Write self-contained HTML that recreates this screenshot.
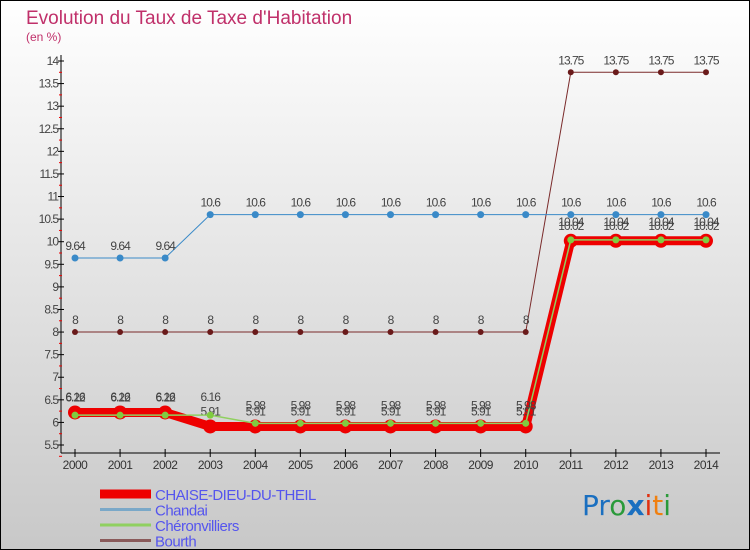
<!DOCTYPE html>
<html><head><meta charset="utf-8"><style>
body{margin:0;}
#wrap{position:relative;width:750px;height:550px;overflow:hidden;font-family:"Liberation Sans",sans-serif;}
</style></head><body>
<div id="wrap">
<svg id="svg" width="750" height="550" xmlns="http://www.w3.org/2000/svg">
<defs>
<linearGradient id="bg" x1="0" y1="0" x2="0" y2="1">
<stop offset="0" stop-color="#ffffff"/><stop offset="1" stop-color="#c8c8c8"/>
</linearGradient>
</defs>
<rect x="0" y="0" width="750" height="550" fill="url(#bg)"/>
<rect x="0.5" y="0.5" width="749" height="549" fill="none" stroke="#000"/>
<text x="26" y="24" font-size="19" fill="#c0306a">Evolution du Taux de Taxe d'Habitation</text>
<text x="26" y="41" font-size="12" fill="#c0306a">(en %)</text>
<g id="axes"></g>
<g id="series"></g>
<g id="legend"></g>
<text x="582" y="515" font-size="28" font-family="DejaVu Sans"><tspan fill="#1a6fc0">Pr</tspan><tspan fill="#2a9a3a">o</tspan><tspan fill="#1a6fc0" font-weight="bold">x</tspan><tspan fill="#e03010">i</tspan><tspan fill="#f08010">t</tspan><tspan fill="#2a9a3a">i</tspan></text>
</svg>
</div>
<script>
const years=[2000,2001,2002,2003,2004,2005,2006,2007,2008,2009,2010,2011,2012,2013,2014];
const chaise=[6.22,6.22,6.22,5.91,5.91,5.91,5.91,5.91,5.91,5.91,5.91,10.02,10.02,10.02,10.02];
const chandai=[9.64,9.64,9.64,10.6,10.6,10.6,10.6,10.6,10.6,10.6,10.6,10.6,10.6,10.6,10.6];
const cheron=[6.16,6.16,6.16,6.16,5.98,5.98,5.98,5.98,5.98,5.98,5.98,10.04,10.04,10.04,10.04];
const bourth=[8,8,8,8,8,8,8,8,8,8,8,13.75,13.75,13.75,13.75];
const yTicks=[5.5,6,6.5,7,7.5,8,8.5,9,9.5,10,10.5,11,11.5,12,12.5,13,13.5,14];
const seriesNames=["CHAISE-DIEU-DU-THEIL","Chandai","Chéronvilliers","Bourth"];
const NS="http://www.w3.org/2000/svg";
const X=i=>75+i*(706-75)/14;
const Y=v=>445-(v-5.5)*(445-61)/8.5;
function mk(t,a,p){const e=document.createElementNS(NS,t);for(const k in a)e.setAttribute(k,a[k]);p.appendChild(e);return e;}
const ax=document.getElementById('axes');
let l=mk('line',{x1:61,y1:55,x2:61,y2:453,stroke:'#000'},ax);


l=mk('line',{x1:61,y1:453,x2:720,y2:453,stroke:'#000'},ax);


yTicks.forEach(v=>{
 mk('line',{x1:58,y1:Y(v),x2:64,y2:Y(v),stroke:'#000'},ax);
 mk('line',{x1:59,y1:Y(v)+11.3,x2:62,y2:Y(v)+11.3,stroke:'#e00'},ax);
 const t=mk('text',{x:58,y:Y(v)+4,'font-size':12,'text-anchor':'end',fill:'#444','letter-spacing':'-1'},ax);
 t.textContent=String(v);
 
 
});
years.forEach((yr,i)=>{
 mk('line',{x1:X(i),y1:449,x2:X(i),y2:457,stroke:'#000'},ax);
 const t=mk('text',{x:X(i),y:469,'font-size':12,'text-anchor':'middle',fill:'#333','letter-spacing':'-0.5'},ax);
 t.textContent=String(yr);
 
 
});
const sg=document.getElementById('series');
function draw(data,color,w,dotR,dotFill,name,labOff){
 const g=mk('g',{},sg);
 
 
 mk('polyline',{points:data.map((v,i)=>X(i)+','+Y(v)).join(' '),fill:'none',stroke:color,'stroke-width':w},g);
 data.forEach((v,i)=>{
  const c=mk('circle',{cx:X(i),cy:Y(v),r:dotR,fill:dotFill},g);
  
  
  const t=mk('text',{x:X(i),y:Y(v)+labOff,'font-size':12,'text-anchor':'middle',fill:'#444','letter-spacing':'-1'},g);
  t.textContent=String(v);
 });
}
draw(bourth,'#7a2a2a',1,3,'#6a1a1a','series-bourth',-8);
draw(chandai,'#3a8ac8',1,3.5,'#3a8ac8','series-chandai',-8);
draw(chaise,'#ee0000',9,7,'#ee0000','series-chaise-dieu-du-theil',-11);
draw(cheron,'#90d060',1.5,3.5,'#80cc40','series-cheronvilliers',-14);
const lg=document.getElementById('legend');
const lc=[['#ee0000',9],['#7aa8c8',3],['#90d060',3],['#8a5a5a',3]];
seriesNames.forEach((n,i)=>{
 const y=494+i*15.5;
 mk('line',{x1:100,y1:y,x2:151,y2:y,stroke:lc[i][0],'stroke-width':lc[i][1]},lg);
 const t=mk('text',{x:155,y:y+6,'font-size':15,fill:'#5555ee','letter-spacing':'-0.5'},lg);
 t.textContent=n;
 
 
});
</script>
</body></html>
